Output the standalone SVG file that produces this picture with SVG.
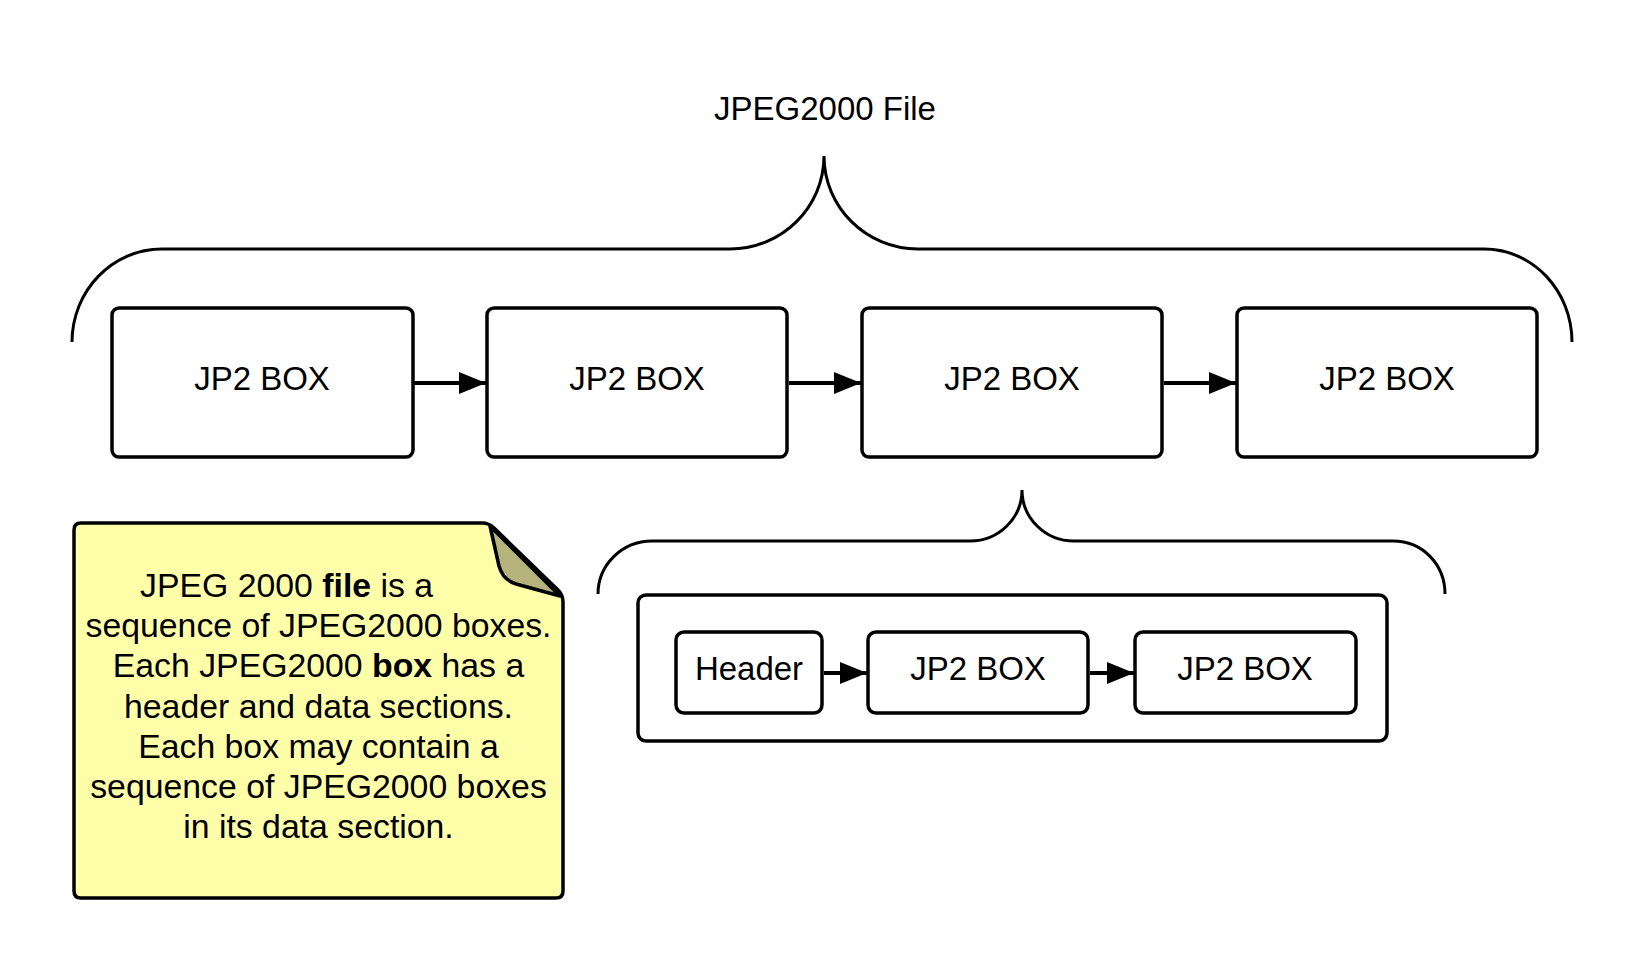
<svg xmlns="http://www.w3.org/2000/svg" width="1648" height="975" viewBox="0 0 1648 975">
<style>
.box{fill:#fff;stroke:#000;stroke-width:3.5}
.brace{fill:none;stroke:#000;stroke-width:3}
.conn{stroke:#000;stroke-width:4;fill:none}
.t{font-family:"Liberation Sans",Arial,sans-serif;font-size:33px;fill:#000}
.c{text-anchor:middle}
.note{font-family:"Liberation Sans",Arial,sans-serif;font-size:33.8px;fill:#000}
</style>
<defs>
<marker id="ah" markerUnits="userSpaceOnUse" markerWidth="27" markerHeight="22" refX="27" refY="11" orient="auto">
<path d="M0,0 L27,11 L0,22 Z" fill="#000"/>
</marker>
</defs>
<rect width="1648" height="975" fill="#fff"/>

<g id="title"><text class="t c" x="825" y="120" font-size="34.5">JPEG2000 File</text></g>

<g id="brace-file"><path class="brace" d="M72 342 C72 291 112 249 162 249 L730 249 C782 249 824 207 824 156 C824 207 866 249 918 249 L1484 249 C1533 249 1572 291 1572 342"/></g>

<g id="box1"><rect class="box" x="112" y="308" width="301" height="149" rx="7"/><text class="t c" x="262" y="390">JP2 BOX</text></g>
<g id="box2"><rect class="box" x="487" y="308" width="300" height="149" rx="7"/><text class="t c" x="637" y="390">JP2 BOX</text></g>
<g id="box3"><rect class="box" x="862" y="308" width="300" height="149" rx="7"/><text class="t c" x="1012" y="390">JP2 BOX</text></g>
<g id="box4"><rect class="box" x="1237" y="308" width="300" height="149" rx="7"/><text class="t c" x="1387" y="390">JP2 BOX</text></g>

<g id="brace-box"><path class="brace" d="M598 594 C598 565 622 541 652 541 L970 541 C999 541 1022 518 1022 490 C1022 518 1045 541 1074 541 L1393 541 C1423 541 1445 565 1445 594"/></g>

<g id="container"><rect class="box" x="638" y="595" width="749" height="146" rx="8"/></g>
<g id="header"><rect class="box" x="676" y="632" width="146" height="81" rx="8"/><text class="t c" x="749" y="680">Header</text></g>
<g id="inner1"><rect class="box" x="868" y="632" width="220" height="81" rx="8"/><text class="t c" x="978" y="680">JP2 BOX</text></g>
<g id="inner2"><rect class="box" x="1135" y="632" width="221" height="81" rx="8"/><text class="t c" x="1245" y="680">JP2 BOX</text></g>

<g id="connectors">
<line class="conn" x1="414" y1="383" x2="486" y2="383" marker-end="url(#ah)"/>
<line class="conn" x1="789" y1="383" x2="861" y2="383" marker-end="url(#ah)"/>
<line class="conn" x1="1164" y1="383" x2="1236" y2="383" marker-end="url(#ah)"/>
<line class="conn" x1="824" y1="673" x2="867" y2="673" marker-end="url(#ah)"/>
<line class="conn" x1="1090" y1="673" x2="1134" y2="673" marker-end="url(#ah)"/>
</g>

<g id="note">
<path d="M81 523 L482 523 Q489 523 494 528 L558 590 Q563 595 563 602 L563 891 Q563 898 556 898 L81 898 Q74 898 74 891 L74 530 Q74 523 81 523 Z" fill="#FFFFAA" stroke="#000" stroke-width="3.5"/>
<path d="M490 526 L499 566 Q503 580 516 584 L560 596 Z" fill="#B5B47D" stroke="#000" stroke-width="3.5" stroke-linejoin="round"/>
<text class="note" x="140" y="597">JPEG 2000 <tspan font-weight="bold">file</tspan> is a</text>
<text class="note c" x="318.5" y="637">sequence of JPEG2000 boxes.</text>
<text class="note c" x="318.5" y="677">Each JPEG2000 <tspan font-weight="bold">box</tspan> has a</text>
<text class="note c" x="318.5" y="718">header and data sections.</text>
<text class="note c" x="318.5" y="758">Each box may contain a</text>
<text class="note c" x="318.5" y="798">sequence of JPEG2000 boxes</text>
<text class="note c" x="318.5" y="838">in its data section.</text>
</g>
</svg>
